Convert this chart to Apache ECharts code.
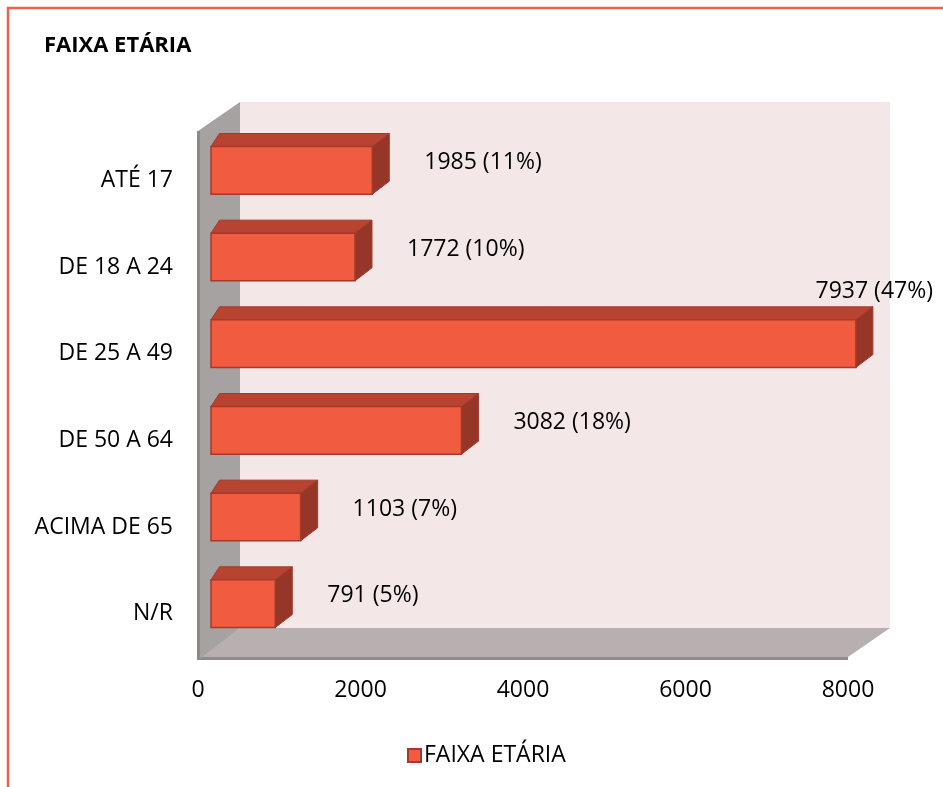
<!DOCTYPE html>
<html>
<head>
<meta charset="utf-8">
<script src="https://cdn.jsdelivr.net/npm/echarts@6/dist/echarts.min.js"></script>
<style>
  html, body { margin: 0; padding: 0; background: #fff; }
  #chart { width: 943px; height: 787px; }
</style>
</head>
<body>
<div id="chart"></div>
<script>
// dados
const faixas = ['ATÉ 17', 'DE 18 A 24', 'DE 25 A 49', 'DE 50 A 64', 'ACIMA DE 65', 'N/R']
const totais = [1985, 1772, 7937, 3082, 1103, 791]
const percentuais = [11, 10, 47, 18, 7, 5]
const ticksX = [0, 2000, 4000, 6000, 8000]

const FONT = "'Open Sans', 'Liberation Sans', sans-serif"
const FONT_SIZE = 23

// profundidade do "3D"
const WALL_DX = 42
const WALL_DY = -29
const BAR_OFF_X = 13
const BAR_OFF_Y = -10
const BAR_DX = 17
const BAR_DY = -13

const measureCtx = document.createElement('canvas').getContext('2d')
const textWidth = (txt) => {
  measureCtx.font = FONT_SIZE + 'px ' + FONT
  return measureCtx.measureText(txt).width
}

const renderWalls = (params, api) => {
  const cs = params.coordSys
  const L = cs.x
  const R = cs.x + cs.width
  const T = cs.y - 6
  const B = cs.y + cs.height
  return {
    type: 'group',
    children: [
      {
        type: 'rect',
        shape: { x: L + WALL_DX, y: T + WALL_DY, width: R - L, height: B - T },
        style: { fill: '#f3e7e7' }
      },
      {
        type: 'polygon',
        shape: { points: [[L, B], [L + WALL_DX, B + WALL_DY], [R + WALL_DX, B + WALL_DY], [R, B]] },
        style: { fill: '#b8b0b0' }
      },
      {
        type: 'rect',
        shape: { x: L, y: B, width: R - L, height: 3 },
        style: { fill: '#8f8b8b' }
      },
      {
        type: 'polygon',
        shape: { points: [[L, T], [L + WALL_DX, T + WALL_DY], [L + WALL_DX, B + WALL_DY], [L, B + 3]] },
        style: { fill: '#a6a2a2' }
      },
      {
        type: 'rect',
        shape: { x: L - 1, y: T, width: 3, height: B - T + 3 },
        style: { fill: '#8c8888' }
      }
    ]
  }
}

const renderBar = (params, api) => {
  const cat = api.value(1)
  const v = api.value(0)
  const p0 = api.coord([0, cat])
  const p1 = api.coord([v, cat])
  const band = api.size([0, 1])[1]
  const h = band * 0.55
  const x0 = p0[0] + BAR_OFF_X
  const x1 = p1[0] + BAR_OFF_X
  const yc = p0[1] + BAR_OFF_Y
  const top = yc - h / 2
  const bot = yc + h / 2
  const stroke = '#a33a2a'

  const txt = v + ' (' + percentuais[params.dataIndex] + '%)'
  let label = {
    type: 'text',
    style: {
      text: txt, x: x1 + 52, y: yc - 8,
      fill: '#000', font: FONT_SIZE + 'px ' + FONT,
      align: 'left', verticalAlign: 'middle'
    }
  }
  const chartW = api.getWidth()
  if (x1 + 52 + textWidth(txt) > chartW - 8) {
    label.style.x = chartW - 10
    label.style.y = top + BAR_DY - 15
    label.style.align = 'right'
  }

  return {
    type: 'group',
    children: [
      {
        type: 'polygon',
        shape: { points: [[x0, top], [x0 + BAR_DX * 0.5, top + BAR_DY], [x1 + BAR_DX, top + BAR_DY], [x1, top]] },
        style: { fill: '#b94331', stroke: stroke, lineWidth: 1 }
      },
      {
        type: 'polygon',
        shape: { points: [[x1, top], [x1 + BAR_DX, top + BAR_DY], [x1 + BAR_DX, bot + BAR_DY], [x1, bot]] },
        style: { fill: '#963628', stroke: stroke, lineWidth: 1 }
      },
      {
        type: 'rect',
        shape: { x: x0, y: top, width: x1 - x0, height: h },
        style: { fill: '#f15b40', stroke: stroke, lineWidth: 1.5 }
      },
      label
    ]
  }
}

const chart = echarts.init(document.getElementById('chart'))

chart.setOption({
  animation: false,
  backgroundColor: '#fff',
  title: {
    text: 'FAIXA ETÁRIA',
    left: 39,
    top: 30,
    textStyle: { fontFamily: FONT, fontSize: 22, fontWeight: 'bold', color: '#000' }
  },
  legend: {
    data: ['FAIXA ETÁRIA'],
    left: 402,
    top: 739,
    icon: 'rect',
    itemWidth: 13,
    itemHeight: 13,
    itemGap: 6,
    textStyle: { fontFamily: FONT, fontSize: FONT_SIZE, color: '#000', padding: [0, 0, 0, -2] }
  },
  graphic: [
    {
      type: 'polyline',
      shape: { points: [[8, 787], [8, 8], [943, 8]] },
      style: { stroke: '#ef6049', lineWidth: 2.5, fill: null },
      silent: true
    }
  ],
  grid: {
    left: 198,
    right: 95,
    top: 137,
    bottom: 130
  },
  xAxis: {
    type: 'value',
    min: ticksX[0],
    max: ticksX[ticksX.length - 1],
    interval: ticksX[1] - ticksX[0],
    axisLine: { show: false },
    axisTick: { show: false },
    splitLine: { show: false },
    axisLabel: {
      margin: 22, color: '#000', fontFamily: FONT, fontSize: FONT_SIZE,
      formatter: (v) => String(v)
    }
  },
  yAxis: {
    type: 'category',
    data: faixas,
    inverse: true,
    axisLine: { show: false },
    axisTick: { show: false },
    axisLabel: { margin: 25, color: '#000', fontFamily: FONT, fontSize: FONT_SIZE }
  },
  series: [
    {
      name: 'fundo',
      type: 'custom',
      silent: true,
      z: 1,
      renderItem: renderWalls,
      encode: { x: 0, y: 1 },
      data: [[0, 0]]
    },
    {
      name: 'FAIXA ETÁRIA',
      type: 'custom',
      z: 2,
      renderItem: renderBar,
      itemStyle: { color: '#f15b40', borderColor: '#a33a2a', borderWidth: 1 },
      encode: { x: 0, y: 1 },
      data: totais.map((v, i) => [v, i])
    }
  ]
})
</script>
</body>
</html>
